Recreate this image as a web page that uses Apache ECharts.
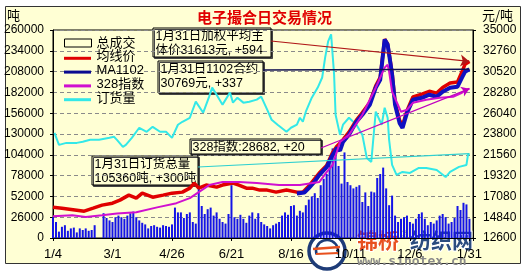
<!DOCTYPE html>
<html><head><meta charset="utf-8">
<script src="https://cdn.jsdelivr.net/npm/echarts@6/dist/echarts.min.js"></script>
<style>html,body{margin:0;padding:0;background:#fff}#c{width:529px;height:271px}</style>
</head><body><div id="c"></div>
<script>
// x tick labels (every 40 trading days)
const tickLabels = ['1/4','3/1','4/26','6/21','8/16','10/11','12/6','1/31'];
// 总成交 (吨), one bar every second trading day
const volume = [26000,20000,8000,14000,16000,9000,12000,13000,7000,12000,
10000,12000,9000,10000,16000,0,0,31000,25000,22000,
20000,26000,28000,26000,24000,28000,31000,33000,26000,22000,
19000,17000,12000,15000,16000,14000,13000,16000,15000,14000,
17000,38000,32000,32000,25000,30000,32000,20000,18000,62000,
40000,30000,36000,38000,28000,32000,24000,20000,18000,30000,
66000,26000,24000,29000,24000,19000,28000,32000,24000,31000,
20000,17000,15000,12000,16000,18000,20000,28000,32000,29000,
40000,41000,28000,34000,32000,41000,48000,52000,56000,50000,
66000,74000,80000,95000,112000,104000,90000,68000,107000,70000,
66000,62000,64000,66000,45000,57000,40000,58000,57000,75000,
80000,88000,62000,41000,53000,28000,20000,24000,26000,28000,
20000,18000,24000,30000,32000,24000,16000,20000,18000,22000,
28000,30000,26000,18000,20000,25000,40000,35000,44000,42000,
24000];
// 均线价 (元/吨): [trading-day index, value]
const avgPrice = [[0,15920],[6,15810],[16,15600],[21,15490],[27,15810],[33,16140],[40,16350],[45,16680],[51,17220],[56,16890],[60,17430],[67,16990],[74,17220],[80,17430],[87,17540],[92,17970],[95,18520],[98,17970],[103,18300],[110,18080],[114,18300],[121,18520],[125,18300],[130,17970],[134,17970],[139,17760],[144,17760],[150,17540],[157,17760],[164,17540],[168,17540],[172,18200],[179,19600],[184,20400],[188,21800],[191,22500],[195,23200],[199,24000],[204,25300],[208,26100],[213,27200],[217,29000],[220,29900],[223,34000],[225,33500],[228,30400],[230,27200],[233,25300],[235,24700],[238,26300],[242,27800],[248,28100],[253,28400],[258,28200],[262,28800],[267,29300],[272,29400],[275,30500],[277,31300],[280,31613]];
// MA1102
const ma1102 = [[164,17400],[169,17500],[172,17970],[176,18700],[179,19380],[184,20240],[188,21540],[191,22300],[193,22000],[195,22950],[199,23710],[204,25110],[208,25870],[213,26950],[217,28780],[220,29650],[223,33970],[225,33430],[228,30190],[230,26950],[233,25000],[235,24460],[238,26080],[242,27490],[248,27700],[253,28030],[258,27810],[262,28350],[267,28780],[272,28890],[275,29870],[277,30500],[280,30769]];
// 328指数
const idx328 = [[0,14950],[13,15050],[22,14850],[33,15050],[43,15250],[56,15380],[70,15900],[83,16350],[92,16890],[98,17540],[105,18300],[114,18620],[125,18620],[137,18520],[152,18300],[166,18300],[179,18620],[184,19700],[188,20460],[193,22950],[199,23710],[208,25870],[217,28780],[223,30950],[225,31270],[226,30510],[228,28350],[231,27270],[234,26190],[238,26410],[242,27160],[251,27490],[260,27700],[269,27810],[275,28240],[278,28570],[280,28682]];
// 订货量 (吨)
const orders = [[1,131500],[4,116400],[9,118900],[16,118900],[20,120200],[25,122700],[31,122700],[38,125200],[41,126500],[43,122700],[47,113900],[49,116400],[53,125200],[58,137800],[63,132800],[67,139000],[72,132800],[76,132800],[80,125200],[84,141600],[87,145300],[92,150300],[96,170400],[101,156600],[105,176700],[107,188000],[110,179200],[114,166700],[119,181800],[121,169200],[124,175400],[128,169200],[132,170400],[137,173000],[140,176700],[144,160400],[147,147800],[151,141600],[157,132800],[160,137800],[164,141600],[166,150300],[168,145300],[170,157900],[174,175400],[178,188000],[181,200600],[183,225700],[185,245800],[187,254600],[188,229500],[189,204400],[190,154000],[193,128900],[195,141600],[199,150300],[204,141600],[208,128900],[211,100000],[214,95000],[217,157900],[221,141600],[223,162900],[225,150300],[226,122700],[228,91300],[231,78800],[235,82600],[240,81300],[246,87600],[251,87600],[258,85000],[264,76200],[267,82600],[273,88900],[278,91300],[279,103900],[280,105360]];
// annotation texts
const noteAvg = '1月31日加权平均主\n体价31613元, +594';
const noteMA = '1月31日1102合约\n30769元, +337';
const note328 = '328指数:28682, +20';
const noteOrd = '1月31日订货总量\n105360吨, +300吨';

const FONT = '"Liberation Sans", Arial, sans-serif';
const CJK = '"Noto Sans CJK SC", sans-serif';
const MIX = '"Liberation Sans", "Noto Sans CJK SC", sans-serif';
const BG = '#FFFFD4';
const COLORS = {'均线价': '#E00000', 'MA1102': '#0A0A90', '328指数': '#D010D0', '订货量': '#33E8E8'};
const chart = echarts.init(document.getElementById('c'));
const volData = volume.map((v, i) => [i * 2, v]);
const last = a => a[a.length - 1];

function box(x, y, w, h, text) {
  return {type: 'group', z: 50, children: [
    {type: 'rect', shape: {x: x, y: y, width: w, height: h},
     style: {fill: BG, stroke: '#000', lineWidth: 1, shadowColor: '#444', shadowOffsetX: 1.5, shadowOffsetY: 1.5, shadowBlur: 0}},
    {type: 'text', x: x + 2.5, y: y + 1.5, style: {text: text, font: '12.5px ' + MIX, fill: '#000', lineHeight: 14, verticalAlign: 'top'}}
  ]};
}
const legendNames = ['总成交', '均线价', 'MA1102', '328指数', '订货量'];
const LEG_TOP = 36.5, LEG_STEP = 13.8;
const legendIcons = legendNames.slice(1).map((n, i) => ({
  type: 'line', z: 40,
  shape: {x1: 64, y1: LEG_TOP + 8 + LEG_STEP * (i + 1), x2: 91, y2: LEG_TOP + 8 + LEG_STEP * (i + 1)},
  style: {stroke: COLORS[n], lineWidth: 3}
}));

const option = {
  backgroundColor: '#ffffff',
  animation: false,
  title: {text: '电子撮合日交易情况', left: 'center', top: 5,
    textStyle: {color: '#E00000', fontSize: 15, fontWeight: 'bold', fontFamily: CJK}},
  legend: {
    orient: 'vertical', left: 64, top: LEG_TOP, padding: 0, itemWidth: 27, itemHeight: 8, itemGap: 0.8,
    textStyle: {fontSize: 13, color: '#000', fontFamily: MIX},
    data: legendNames.map((n, i) => i === 0
      ? {name: n, icon: 'rect', itemStyle: {color: BG, borderColor: '#000', borderWidth: 1}}
      : {name: n, icon: 'rect', itemStyle: {color: 'rgba(0,0,0,0)', borderWidth: 0}})
  },
  grid: {left: 53, top: 30, width: 420, height: 208, show: true, borderColor: '#000', borderWidth: 1, backgroundColor: 'transparent'},
  xAxis: {type: 'value', min: 0, max: 282.4, interval: 40,
    axisLine: {show: true, lineStyle: {color: '#000'}},
    axisTick: {show: true, length: 3, lineStyle: {color: '#000'}},
    axisLabel: {margin: 10, fontSize: 13, color: '#000', fontFamily: FONT,
      formatter: v => (v % 40 === 0 && tickLabels[v / 40]) ? tickLabels[v / 40] : ''},
    splitLine: {show: false}},
  yAxis: [
    {type: 'value', min: 0, max: 260000, interval: 26000,
      axisLine: {show: true, lineStyle: {color: '#000'}},
      axisTick: {show: true, length: 3, lineStyle: {color: '#000'}},
      axisLabel: {margin: 9, fontSize: 12, color: '#000', fontFamily: FONT, formatter: v => String(v)},
      splitLine: {show: true, lineStyle: {color: '#8a8a8a', type: [4, 3]}}},
    {type: 'value', position: 'right', min: 12600, max: 35000, interval: 2240,
      axisLine: {show: true, lineStyle: {color: '#000'}},
      axisTick: {show: true, length: 3, lineStyle: {color: '#000'}},
      axisLabel: {margin: 10, fontSize: 12, color: '#000', fontFamily: FONT, formatter: v => String(v)},
      splitLine: {show: false}}
  ],
  series: [
    {type: 'bar', name: '总成交', yAxisIndex: 0, data: volData, barWidth: 2,
      itemStyle: {color: '#1414E6'}},
    {type: 'line', name: '订货量', yAxisIndex: 0, data: orders, symbol: 'none',
      lineStyle: {color: '#33E8E8', width: 2}, itemStyle: {color: '#33E8E8'},
      markLine: {silent: true, symbol: ['none', 'none'], label: {show: false},
        lineStyle: {color: '#30D0D0', width: 1.2, type: 'solid'},
        data: [[{x: 198, y: 167}, {coord: last(orders)}]]}},
    {type: 'line', name: '均线价', yAxisIndex: 1, data: avgPrice, symbol: 'none',
      lineStyle: {color: '#E00000', width: 3.5}, itemStyle: {color: '#E00000'},
      markLine: {silent: true, symbol: ['none', 'arrow'], symbolSize: 9, label: {show: false},
        lineStyle: {color: '#B01818', width: 1.2, type: 'solid'},
        data: [[{x: 271, y: 41}, {coord: last(avgPrice)}]]}},
    {type: 'line', name: 'MA1102', yAxisIndex: 1, data: ma1102, symbol: 'none',
      lineStyle: {color: '#1010C0', width: 4}, itemStyle: {color: '#0A0A90'},
      markLine: {silent: true, symbol: ['none', 'none'], label: {show: false},
        lineStyle: {color: '#101050', width: 1.5, type: 'solid'},
        data: [[{x: 263, y: 70}, {coord: last(ma1102)}]]}},
    {type: 'line', name: '328指数', yAxisIndex: 1, data: idx328, symbol: 'none',
      lineStyle: {color: '#D010D0', width: 2}, itemStyle: {color: '#D010D0'},
      markLine: {silent: true, symbol: ['none', 'arrow'], symbolSize: 8, label: {show: false},
        lineStyle: {color: '#C000C0', width: 1.2, type: 'solid'},
        data: [[{x: 321, y: 148}, {coord: last(idx328)}]]}}
  ],
  graphic: [
    {type: 'rect', z: -10, shape: {x: 5.5, y: 6.5, width: 515, height: 257}, style: {fill: BG, stroke: '#333', lineWidth: 1}},
    {type: 'text', x: 7, y: 9, style: {text: '吨', font: '13px ' + CJK, fill: '#000', verticalAlign: 'top'}},
    {type: 'text', x: 482, y: 9, style: {text: '元/吨', font: '13px ' + CJK, fill: '#000', verticalAlign: 'top'}},
    ...legendIcons,
    box(153, 28, 118, 29, noteAvg),
    box(158, 61, 105, 32, noteMA),
    box(190, 139, 131, 15, note328),
    box(92, 156, 106, 29, noteOrd),
    {type: 'group', z: 60, children: [
      {type: 'circle', shape: {cx: 327, cy: 251, r: 18}, style: {fill: '#fff', stroke: '#1E3C78', lineWidth: 3.5}},
      {type: 'arc', shape: {cx: 327, cy: 251, r: 11, startAngle: Math.PI * 0.9, endAngle: Math.PI * 2.1}, style: {fill: 'none', stroke: '#1E3C78', lineWidth: 2.5}},
      {type: 'line', shape: {x1: 313, y1: 249, x2: 340, y2: 247}, style: {stroke: '#E8501E', lineWidth: 2.5}},
      {type: 'line', shape: {x1: 316, y1: 254, x2: 338, y2: 253}, style: {stroke: '#E8501E', lineWidth: 2}},
      {type: 'text', x: 357, y: 230, style: {text: '锦桥', font: 'bold 21px ' + CJK, fill: '#E8501E', stroke: '#fff', lineWidth: 2, verticalAlign: 'top'}},
      {type: 'text', x: 401, y: 230, style: {text: '®', font: '9px ' + FONT, fill: '#777', verticalAlign: 'top'}},
      {type: 'text', x: 410, y: 230, style: {text: '纺织网', font: 'bold 21px ' + CJK, fill: '#2B4C7E', stroke: '#fff', lineWidth: 2, verticalAlign: 'top'}},
      {type: 'text', x: 357, y: 255, style: {text: 'www.sinotex.cn', font: 'bold 13px "DejaVu Sans Mono", monospace', fill: '#8a8a8a', verticalAlign: 'top'}}
    ]}
  ]
};
chart.setOption(option);
</script></body></html>
